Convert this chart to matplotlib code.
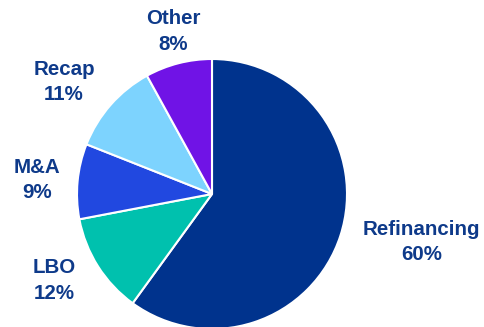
import numpy as np
import matplotlib
matplotlib.use("Agg")
import matplotlib.pyplot as plt

# data
categories = ["Refinancing", "LBO", "M&A", "Recap", "Other"]
shares = [60, 12, 9, 11, 8]

# styling
colors = ["#00338D", "#00C1AE", "#2148E0", "#7DD3FE", "#7013E6"]
text_color = "#0E3A8A"
label_dist = [1.59, 1.33, 1.30, 1.375, 1.24]   # in units of radius
label_nudge = [5.1, -3.7, 0.8, 4.3, -0.9]      # degrees

W, H = 484, 327
fig = plt.figure(figsize=(W / 100, H / 100), dpi=100)
ax = fig.add_axes([0, 0, 1, 1])

cx, cy, R = 212, H - 194, 135
wedges, _ = ax.pie(shares, colors=colors, startangle=90, counterclock=False,
                   center=(cx, cy), radius=R, frame=True,
                   wedgeprops=dict(edgecolor="white", linewidth=1.5))
ax.set_xlim(0, W)
ax.set_ylim(0, H)
ax.set_aspect("equal")
ax.axis("off")

for w, name, pct, d, nud in zip(wedges, categories, shares, label_dist, label_nudge):
    mid = np.deg2rad((w.theta1 + w.theta2) / 2 + nud)
    x = cx + d * R * np.cos(mid)
    y = cy + d * R * np.sin(mid)
    ax.text(x, y, f"{name}\n{pct}%", ha="center", va="center",
            fontsize=14.8, fontweight="bold", color=text_color,
            family="Liberation Sans", linespacing=1.45)

fig.savefig("out.png", dpi=100)
